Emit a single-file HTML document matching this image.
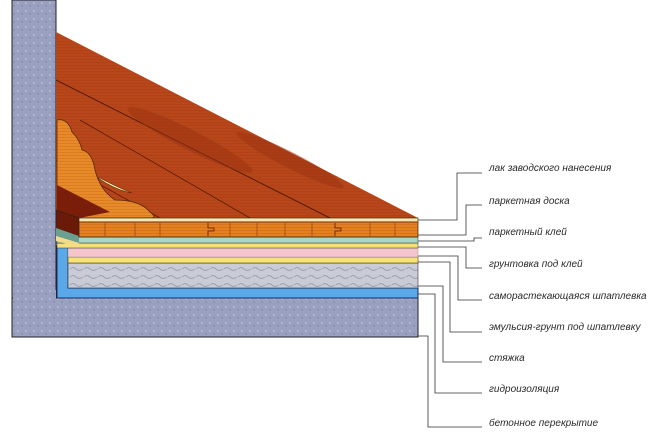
<!DOCTYPE html>
<html><head><meta charset="utf-8"><style>
html,body{margin:0;padding:0;background:#fff;}
svg{display:block;}
text{font-family:"Liberation Sans",sans-serif;font-style:italic;font-size:10px;fill:#2a2a2a;}
</style></head><body>
<svg width="654" height="435" viewBox="0 0 654 435" xmlns="http://www.w3.org/2000/svg">
<defs>
<pattern id="grain" width="6" height="3" patternUnits="userSpaceOnUse"><rect width="6" height="3" fill="none"/><line x1="0" y1="2.5" x2="6" y2="2.5" stroke="#7a2a0a" stroke-opacity="0.18" stroke-width="0.8"/></pattern>
<pattern id="conc" width="8" height="8" patternUnits="userSpaceOnUse"><rect width="8" height="8" fill="#9aa0c0"/><circle cx="2" cy="3" r="1" fill="#b4b8d2"/><circle cx="6" cy="6" r="0.9" fill="#858aaa"/></pattern>
<pattern id="scr" width="14" height="8" patternUnits="userSpaceOnUse"><rect width="14" height="8" fill="#c9ccd6"/><path d="M0 5 q3 -3 6 0 t7 0" stroke="#9da1ae" fill="none" stroke-width="0.9"/></pattern>
</defs>
<!-- wall + slab -->
<rect x="12" y="0" width="44" height="300" fill="url(#conc)" stroke="#222" stroke-width="1"/>
<rect x="12" y="298" width="406" height="39" fill="url(#conc)" stroke="#222" stroke-width="1"/>
<rect x="13" y="290" width="43" height="10" fill="url(#conc)"/>
<!-- waterproofing -->
<path d="M57 246 H68 V288 H418 V298 H57 Z" fill="#5aa8e8" stroke="#1a2a60" stroke-width="1"/>
<!-- screed -->
<rect x="68" y="263" width="350" height="25" fill="url(#scr)" stroke="#333" stroke-width="0.6"/>
<!-- emulsion yellow -->
<rect x="68" y="257" width="350" height="6" fill="#f7e27a" stroke="#5a3a10" stroke-width="0.6"/>
<!-- pink leveler -->
<rect x="68" y="248" width="350" height="9" fill="#f4c6cc" stroke="#888" stroke-width="0.4"/>
<!-- primer yellow -->
<rect x="57" y="243" width="361" height="5" fill="#f6e07a" stroke="#333" stroke-width="0.5"/>
<!-- glue green -->
<rect x="57" y="237" width="361" height="6" fill="#a8d8c0" stroke="#333" stroke-width="0.5"/>
<!-- floor top surface -->
<path d="M56 32 L418 218 L79 218 L56 210 Z" fill="#b8461a"/>
<path d="M56 32 L418 218 L79 218 L56 210 Z" fill="url(#grain)"/>
<path d="M56 80 L330 218" stroke="#5a1a08" stroke-width="1"/>
<path d="M80 120 L250 218" stroke="#5a1a08" stroke-width="0.8"/>
<path d="M56 160 L160 218" stroke="#5a1a08" stroke-width="0.8"/>
<ellipse cx="190" cy="140" rx="70" ry="10" transform="rotate(27 190 140)" fill="#9a3210" opacity="0.5"/>
<ellipse cx="290" cy="160" rx="60" ry="8" transform="rotate(27 290 160)" fill="#9a3210" opacity="0.5"/>
<!-- knot -->
<path d="M57 120 Q68 118 72 132 Q80 140 82 150 Q92 152 95 170 Q100 190 115 200 Q140 200 150 212 Q158 218 150 218 L79 218 L57 210 Z" fill="#e88a28" stroke="#5a2a08" stroke-width="0.8"/>
<path d="M57 120 Q68 118 72 132 Q80 140 82 150 Q92 152 95 170 Q100 190 115 200 Q140 200 150 212 Q158 218 150 218 L79 218 L57 210 Z" fill="url(#grain)"/>
<path d="M98 178 Q115 190 132 193 Q115 186 100 178 Z" fill="#f7e7a0" stroke="#5a2a08" stroke-width="0.6"/>
<path d="M57 185 L110 212 L79 218 L57 212 Z" fill="#7a1e0a"/>
<!-- left end of board -->
<path d="M56 210 L79 218 L79 237 L56 230 Z" fill="#6a1a08" stroke="#222" stroke-width="0.6"/>
<path d="M56 228 L79 236 L79 243 L56 236 Z" fill="#6aa090"/>
<path d="M56 236 L79 243 L79 247 L56 241 Z" fill="#f3da8a"/>
<!-- board front -->
<rect x="79" y="218" width="339" height="4" fill="#f6e6b0" stroke="#3a1a08" stroke-width="0.6"/>
<rect x="79" y="222" width="339" height="15" fill="#e4801e" stroke="#3a1a08" stroke-width="0.7"/>
<rect x="79" y="222" width="339" height="15" fill="url(#grain)"/>
<g stroke="#8a3a10" stroke-width="0.6">
<line x1="105" y1="223" x2="105" y2="236"/><line x1="135" y1="223" x2="135" y2="236"/><line x1="160" y1="223" x2="160" y2="236"/><line x1="230" y1="223" x2="230" y2="236"/><line x1="257" y1="223" x2="257" y2="236"/><line x1="285" y1="223" x2="285" y2="236"/><line x1="312" y1="223" x2="312" y2="236"/><line x1="370" y1="223" x2="370" y2="236"/><line x1="395" y1="223" x2="395" y2="236"/>
</g>
<path d="M208 223 V228 H214 V231 H208 V236 M335 223 V228 H341 V231 H335 V236" stroke="#5a1a08" fill="none" stroke-width="0.8"/>
<!-- connectors -->
<g stroke="#333" stroke-width="0.8" fill="none">
<path d="M418 220 H457 V173 H482"/>
<path d="M418 235 H466 V205 H482"/>
<path d="M418 241 H474 V238 H482"/>
<path d="M418 247 H466 V268 H482"/>
<path d="M418 256 H458 V300 H482"/>
<path d="M418 262 H450 V332 H482"/>
<path d="M418 286 H443 V362 H482"/>
<path d="M418 294 H435 V393 H482"/>
<path d="M418 336 H428 V427 H482"/>
</g>
<text x="489" y="171">лак заводского нанесения</text>
<text x="489" y="204">паркетная доска</text>
<text x="489" y="235">паркетный клей</text>
<text x="489" y="267">грунтовка под клей</text>
<text x="489" y="299">саморастекающаяся шпатлевка</text>
<text x="489" y="330">эмульсия-грунт под шпатлевку</text>
<text x="489" y="361">стяжка</text>
<text x="489" y="392">гидроизоляция</text>
<text x="489" y="426">бетонное перекрытие</text>
</svg>
</body></html>
